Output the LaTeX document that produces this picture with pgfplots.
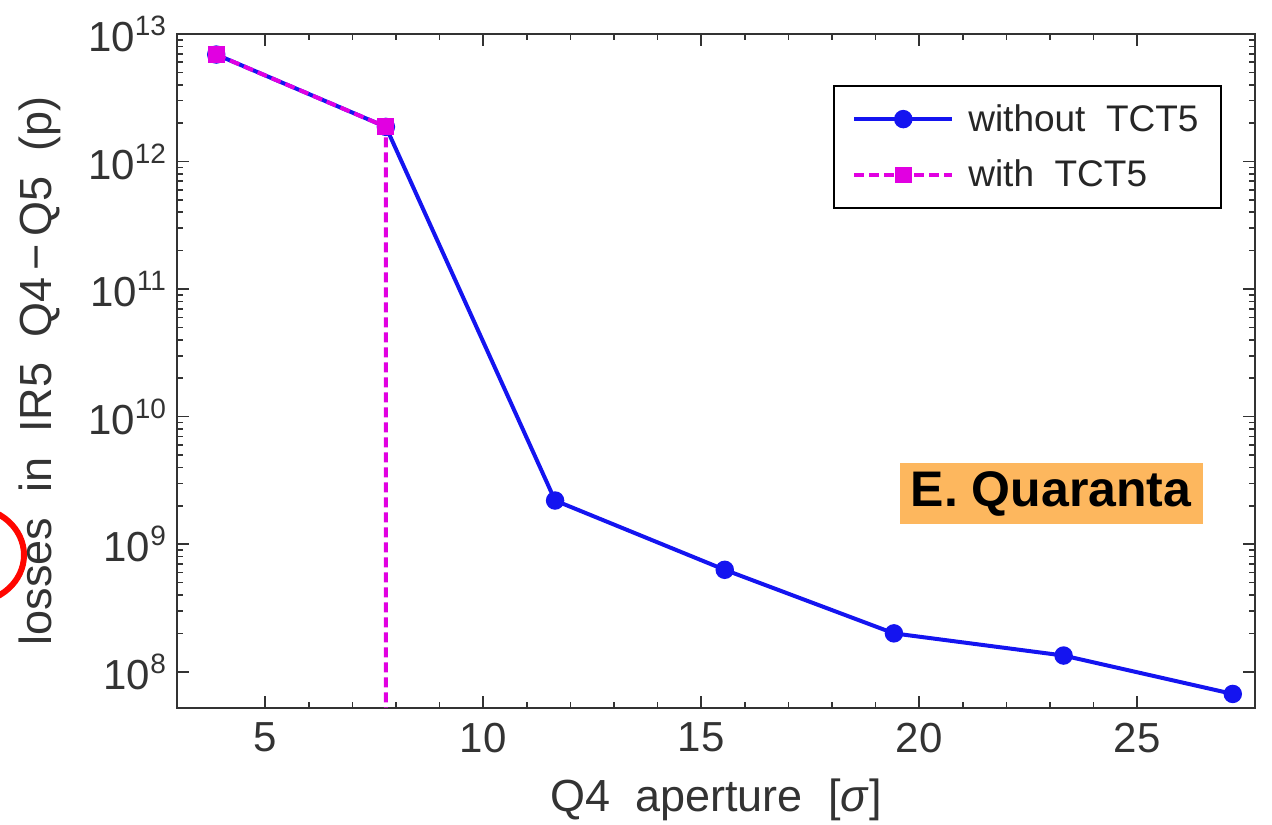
\documentclass[border=0pt]{standalone}
\usepackage{fontspec}
\setmainfont{Liberation Sans}
\usepackage{pgfplots}
\pgfplotsset{compat=1.18}
\definecolor{tickgray}{HTML}{333333}
\definecolor{myblue}{RGB}{20,20,240}
\definecolor{mymag}{RGB}{225,0,225}
\definecolor{boxorange}{RGB}{253,183,94}
\newcommand{\tp}[1]{10\raisebox{0.72ex}{\fontsize{14}{14}\selectfont #1}}
\begin{document}
\begin{tikzpicture}
\useasboundingbox (-88.5pt,-58pt) rectangle (547.5pt,354pt);
\begin{axis}[
  scale only axis, width=539pt, height=337pt,
  at={(0,0)}, anchor=south west,
  xmin=2.98, xmax=27.7,
  ymode=log, ymin=5.2e7, ymax=1e13,
  xtick={5,10,15,20,25}, minor x tick num=4,
  ytick={1e8,1e9,1e10,1e11,1e12,1e13},
  yticklabels={\tp{8},\tp{9},\tp{10},\tp{11},\tp{12},\tp{13}},
  tick align=inside, major tick length=6pt, minor tick length=3pt,
  axis line style={line width=1pt, color=tickgray},
  every tick/.style={tickgray, line width=0.8pt},
  tick label style={font=\fontsize{21}{21}\selectfont, text=tickgray},
  /pgf/number format/assume math mode=true,
  xticklabel style={yshift=-4pt},
  yticklabel style={xshift=-2pt},
  xlabel={Q4\ \ aperture\ \ [\textit{σ}]},
  ylabel={losses\ \ in\ \ IR5\ \ Q4\,−\,Q5\ \ (p)},
  label style={font=\fontsize{22.5}{22.5}\selectfont, text=tickgray},
  xlabel style={at={(axis description cs:0.5,-0.1365)}, anchor=center},
  ylabel style={at={(axis description cs:-0.127,0.5)}, anchor=center},
  clip=true,
  legend style={at={(rel axis cs:0.969,0.924)}, anchor=north east, draw=black, line width=1pt,
    font=\fontsize{18.5}{18.5}\selectfont, text=black!85, inner xsep=9pt, inner ysep=7pt,
    row sep=9pt, column sep=5pt},
  legend cell align=left,
  legend image code/.code={\draw[mark repeat=2,mark phase=2,#1] plot coordinates {(0pt,0pt) (24.5pt,0pt) (49pt,0pt)};},
]
\addplot[myblue, line width=2pt, mark=*, mark size=3.6pt, mark options={solid, fill=myblue}]
coordinates {(3.88,6.9e12) (7.77,1.87e12) (11.65,2.2e9) (15.54,6.3e8) (19.42,2.0e8) (23.31,1.34e8) (27.19,6.7e7)};
\addlegendentry{without\ \ TCT5}
\addplot[mymag, line width=2pt, dash pattern=on 5pt off 2.5pt, mark=square*, mark size=3.2pt, mark options={solid, fill=mymag}]
coordinates {(3.88,6.9e12) (7.77,1.87e12) (7.77,1e6)};
\addlegendentry{with\ \ TCT5}
\end{axis}
\node[fill=boxorange, font=\bfseries\fontsize{25}{25}\selectfont, minimum width=151.5pt, minimum height=30.5pt, inner sep=0pt, text=black] at (437pt,107pt) {E. Quaranta};
\draw[red!95!orange, line width=3pt] (-103.5pt,76.5pt) ellipse [x radius=27pt, y radius=24pt];
\end{tikzpicture}
\end{document}
